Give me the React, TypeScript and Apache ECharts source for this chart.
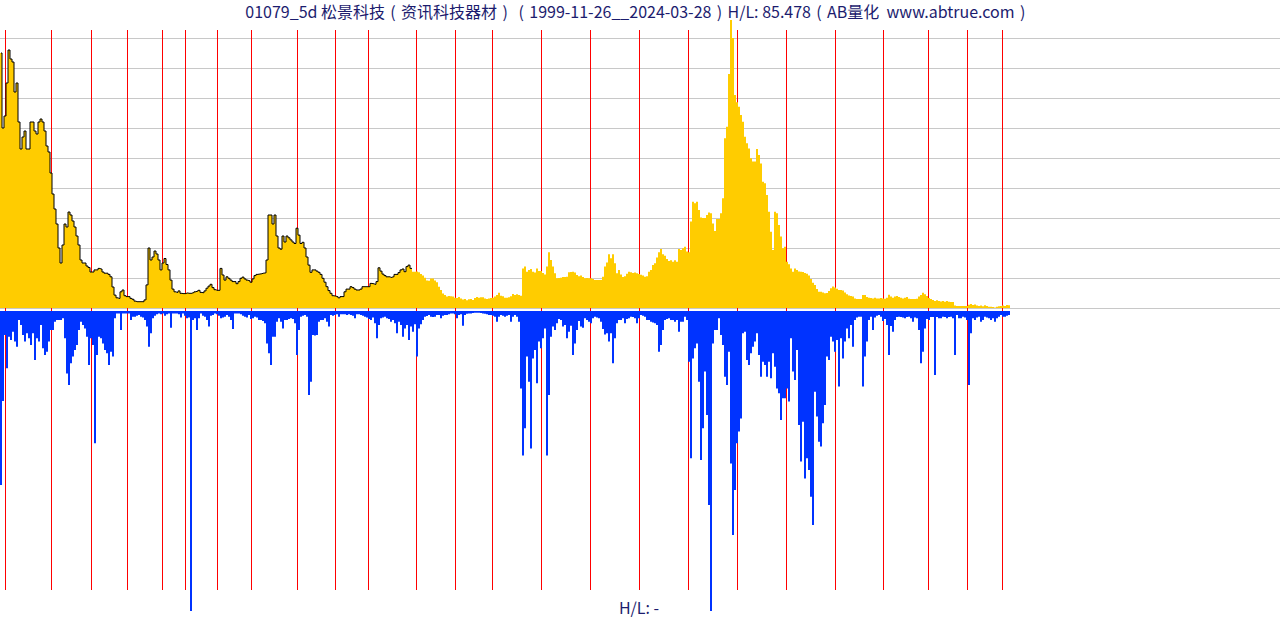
import React, { useEffect, useRef } from "react";
import * as echarts from "echarts";

const P_OPEN = "\u2004(\u2004";
const P_CLOSE = "\u2004)\u2004";
const TITLE =
  "01079_5d 松景科技" + P_OPEN + "资讯科技器材" + P_CLOSE + P_OPEN +
  "1999-11-26__2024-03-28" + P_CLOSE + "H/L: 85.478" + P_OPEN +
  "AB量化  www.abtrue.com" + P_CLOSE;
const FOOTER = "H/L: -";
const SLOT_COUNT = 640;
const OUTLINE_END = 205;

// year separators, in slot units
const yearLineSlots = [
  2.75, 25.75, 45.75, 63.75, 81.25, 92.75, 108.75, 125.75, 148.75, 167.75,
  184.25, 208.25, 227.75, 246.25, 270.75, 295.25, 319.75, 344.25, 368.75,
  393.25, 417.75, 441.75, 464.25, 483.75, 501.25,
];

// upper panel (price) values
const priceA = [
  85, 60, 64, 75, 86, 83, 82, 72, 75, 62,
  53, 57, 59, 53, 53, 62, 62, 59, 58, 62,
  63, 62, 59, 54, 52, 45, 38, 33, 28, 20,
  15, 21, 28, 27, 32, 31, 29, 27, 24, 21,
  16, 15, 15, 14, 13.5, 12, 12, 12.7, 12.7, 13.2,
  13, 12, 11.6, 11.6, 11.2, 10.4, 7, 4.3, 3.4, 3.2,
  5.4, 6, 4.1, 3.8, 3.8, 3.2, 2.9, 2.3, 2.1, 2.1,
  2.1, 2.1, 2.7, 7.7, 20, 16, 17, 19, 18, 16,
  12.7, 15, 16.5, 14.5, 12.7, 9.3, 6.3, 5.4, 5.2, 5.7,
  4.9, 4.8, 4.8, 5, 4.9, 4.9, 5.1, 5.4, 5.6, 5.9,
  5.2, 5.1, 5.7, 6.6, 7.3, 7.9, 6.8, 6.1, 5.9, 5.9,
  13.2, 11, 9.3, 10.4, 9.9, 9.3, 8.8, 8.8, 8.1, 8.8,
  9.9, 10.3, 9.7, 9.3, 9.1, 8.6, 9.7, 10.8, 11.2, 11.3,
  11.4, 11.6, 11.7, 16, 31, 31, 28, 31, 24, 20,
  19.6, 24, 22, 24, 23.4, 22.7, 22, 21.5, 26.6, 24.3,
  21.5, 21.9, 20, 17, 14.3, 11.9, 12.7, 12.7, 12.3, 11.9,
  11.2, 9.9, 8.6, 7.1, 5.8, 4.9, 4.1, 4, 3.8, 3.4,
];
const priceB = [
  3.8, 3.8, 5.4, 6.3, 6.3, 7.1, 6.8, 6.3, 6, 6,
  6.3, 7.1, 7.1, 7.1, 7.1, 8.2, 8.1, 7.9, 8.8, 13.4,
  12.3, 11.3, 10.8, 10.4, 10.4, 10.2, 10.4, 11.2, 11.2, 11.8,
  12.7, 13, 12.1, 13.8, 14.3, 13.2, 12.1, 12.1, 12.2, 11.9,
  11.3, 10.8, 10.1, 9.2, 9.1, 9.8, 9.8, 9.2, 8.6, 7.1,
  6, 4.8, 4.3, 3.8, 4, 3.9, 3.8, 3.4, 3.3, 3.7,
  3.2, 2.8, 3, 2.6, 2.9, 3, 2.7, 3.3, 3.7, 3.4,
  3.6, 3.6, 3.2, 3, 3.2, 3.3, 3.4, 3.8, 4.3, 5.1,
  4.1, 3.9, 3.4, 3.4, 3.6, 3.9, 4.7, 4.3, 4.6, 4.3,
  4.1, 13.2, 13.8, 12.1, 12.7, 13, 12.1, 11.8, 13.2, 12.3,
  12.3, 11.7, 11.2, 13.8, 18.6, 16, 13.8, 11.6, 9.9, 10,
  10.1, 10.3, 10.3, 10.4, 11.9, 12, 12.1, 11.8, 11, 10.6,
  10.8, 10.3, 9.9, 10, 9.9, 9.9, 9.7, 9.3, 9.3, 9.3,
  9.3, 10.4, 13.8, 15.2, 17.9, 16.6, 17.9, 14.9, 11.6, 12.7,
  11.2, 10.3, 10.6, 11.4, 12.1, 11.9, 11.7, 11.8, 11.6, 11.3,
  11.1, 10.8, 10.4, 10.6, 12.1, 12.7, 14.3, 14.9, 16.8, 18.6,
  19.7, 17.9, 17.4, 16.3, 15.7, 15.9, 15.4, 15.9, 15.4, 19.7,
];
const priceC = [
  19.3, 19.9, 20.4, 18.8, 18.6, 28.8, 35.4, 34.9, 35.4, 32.7,
  30.2, 30, 30, 31, 31.8, 31.6, 28.2, 25.7, 29.7, 29.7,
  31.6, 36.6, 56.6, 60.4, 78, 96, 90, 71, 68.6, 67.1,
  64.3, 62.1, 57.1, 54.9, 53.2, 49.9, 48.8, 48.8, 53, 51,
  48.2, 42.1, 41.6, 37.7, 32.1, 25.4, 19.3, 32.1, 31.6, 27.7,
  23.8, 19.9, 20.4, 15.4, 14.6, 13.2, 12.1, 13.2, 12.7, 12.2,
  12.1, 12, 11.7, 11.4, 10.8, 9.7, 8.4, 7.7, 6.3, 5.4,
  5.4, 5.2, 4.9, 5, 5.7, 6.6, 7.2, 6.8, 6.4, 6,
  6, 5.8, 5.2, 4.6, 4.2, 4, 3.8, 3.2, 3, 3,
  3, 4.3, 4.3, 3.7, 3.4, 3.3, 3.2, 3.4, 3.2, 3.2,
  3.3, 3.2, 3.1, 3.4, 4.4, 3.8, 3.4, 3.8, 4, 3.7,
  3.4, 3.2, 3.4, 3.7, 3.1, 3, 3, 3, 3.1, 3.8,
  4.3, 5.1, 4.6, 4, 3.3, 3, 2.7, 2.3, 2.6, 2.3,
  2.2, 2.3, 2.1, 2.3, 2.1, 2, 2, 0.8, 0.7, 0.7,
  0.7, 0.7, 0.7, 0.7, 1.1, 1.3, 1, 1.2, 0.8, 0.7,
  0.8, 0.6, 0.9, 0.7, 0.4, 0.4, 0.3, 0.2, 0.4, 0.6,
  0.7, 0.8, 0.7, 1, 0.9,
];

// lower panel (downward bars) values
const lowA = [
  58, 30, 8, 19.1, 8.6, 9.7, 6.9, 10.2, 11.9, 3,
  4.7, 8, 10.2, 7.4, 9.1, 11.3, 7.4, 16.3, 9.1, 10.2,
  4.7, 12.4, 14.7, 13.6, 10.2, 6.3, 6.3, 3.6, 3, 3,
  3, 2.4, 9.1, 20.8, 24.7, 17.4, 15.2, 13, 11.3, 6.3,
  3.6, 4.7, 5.8, 8.6, 18, 9.1, 11.3, 44.1, 14.7, 8.6,
  9.1, 10.8, 13, 14.1, 18, 13.6, 15.2, 2.4, 0.8, 0.8,
  6.3, 0.8, 0.8, 0.8, 0.8, 3, 1.9, 1.9, 1.6, 1.3,
  1.9, 2.2, 3, 5.2, 11.9, 7.4, 2.4, 1.6, 1.1, 0.8,
  1.1, 0.8, 1.6, 1.1, 0.8, 5.6, 0.8, 0.8, 0.8, 1.1,
  2.2, 0.8, 1.6, 2.4, 2.2, 100, 3, 2.4, 6.3, 2.4,
  0.8, 1.6, 1.9, 3, 5.2, 1.6, 1.3, 0.8, 1.1, 1.6,
  2.4, 2.2, 1.9, 1.3, 1.9, 3, 6, 0.8, 0.8, 0.8,
  1.1, 1.6, 1.9, 2.2, 1.3, 2.7, 2.4, 1.9, 2.2, 3,
  3, 3.3, 4.1, 10.8, 14.1, 18, 8.6, 8.6, 3.6, 2.4,
  3.6, 5.8, 3, 3, 2.7, 2.4, 2.7, 4.1, 14.7, 6.3,
  1.9, 1.6, 1.3, 1.9, 28, 23.6, 8, 8.2, 8, 3.6,
  3, 3, 2.4, 3.6, 5.2, 1.3, 1.6, 1.3, 1.1, 1.9,
];
const lowB = [
  1.1, 1.1, 1.1, 1.3, 1.1, 1.3, 1.6, 2.4, 1.1, 1.1,
  1.3, 1.6, 1.9, 2.2, 2.7, 3, 2.2, 4.1, 9.1, 4.7,
  2.4, 2.2, 1.9, 2.4, 2.7, 3.6, 3, 4.1, 7.4, 3.6,
  4.7, 8.6, 5.8, 4.7, 9.7, 5.2, 6.9, 4.4, 15.2, 5.8,
  4.4, 3, 1.9, 1.7, 1.3, 1.9, 2, 1.9, 1.3, 1.3,
  2.4, 1.6, 1.3, 1.3, 1.1, 0.8, 0.8, 1.1, 2.4, 1.3,
  1.1, 4.9, 1.3, 0.9, 0.8, 0.8, 0.7, 0.6, 0.6, 0.6,
  0.7, 0.8, 0.9, 1.1, 1.3, 1.3, 1.6, 1.9, 3.6, 1.9,
  1.3, 1.6, 1.9, 1.6, 1.3, 3.6, 1.9, 1.3, 1.9, 3.6,
  25.8, 48.2, 39.1, 15.2, 23.6, 45.8, 15.8, 13, 24.1, 10.2,
  12.4, 9.1, 5.8, 48.2, 28, 8.6, 5.2, 6.3, 4.1, 2.7,
  3, 5.2, 4.7, 9.1, 6.9, 4.9, 14.7, 10.8, 6.3, 3.3,
  5.2, 5.6, 2.4, 3, 3.6, 4.1, 2.4, 1.9, 2.2, 2.4,
  3.6, 6, 7.8, 7.4, 10.2, 7.4, 17.4, 9.1, 4.1, 3,
  3, 2.4, 4.1, 2.7, 2.4, 1.9, 2, 2.4, 4.1, 2.4,
  1.3, 1.6, 1.9, 3, 3, 3.6, 3.8, 4.1, 4.7, 13.6,
  11.3, 6.3, 3, 2.7, 2.4, 3, 3, 3.6, 3, 6.9,
];
const lowC = [
  3.6, 3.6, 1.9, 3, 16.9, 49.1, 15.8, 12.4, 10.8, 23.6,
  49.7, 39.1, 20.2, 34.7, 64.7, 100, 10.8, 6.3, 6.3, 2.4,
  8, 11.3, 21.9, 24.7, 13.6, 50.8, 74.7, 59.7, 44.1, 40.2,
  35.8, 7.4, 6.9, 16.3, 18, 14.1, 11.9, 10.2, 7.4, 14.7,
  21.9, 16.9, 18, 21.9, 16.9, 22.4, 14.1, 18.6, 25.8, 27.4,
  36.3, 29.1, 29.1, 25.8, 30.2, 9.1, 20.2, 23, 13, 38,
  50.2, 36.9, 55.8, 49.1, 53, 61.9, 71.3, 26.9, 35.2, 43.6,
  45.2, 37.4, 31.3, 15.2, 16.3, 8.6, 10.2, 13.6, 9.7, 25.2,
  9.1, 15.8, 10.2, 5.8, 9.1, 4.7, 11.9, 3, 2.2, 1.9,
  1.9, 25.2, 15.2, 10.2, 3, 1.9, 6.3, 2.2, 1.6, 1.3,
  1.9, 3.3, 2.7, 4.7, 14.7, 5, 6.9, 3, 2, 1.9,
  2, 2.2, 2.4, 2, 1.9, 2.4, 3.6, 2.2, 2.4, 6.3,
  17.4, 13.6, 5.8, 2.7, 3, 2, 2, 21.3, 2, 2.4,
  2.4, 1.9, 2, 2.4, 2, 1.9, 2.4, 14.7, 1.3, 2.4,
  2.4, 1.9, 2.2, 3, 24.7, 7.4, 2.4, 3, 2.2, 1.9,
  3.6, 3, 1.9, 2.2, 2.4, 3, 2.4, 3.6, 2.4, 1.9,
  1.3, 1.9, 1.9, 1.6, 1.3,
];

const TEXT_COLOR = "#1c1c6e";
const FONT_FAMILY = '"Noto Sans CJK SC", "Noto Sans", sans-serif';

export default function App() {
  const ref = useRef<HTMLDivElement>(null);

  useEffect(() => {
    if (!ref.current) return;
    const chart = echarts.init(ref.current, null, { renderer: "svg" });
    const price = [...priceA, ...priceB, ...priceC];
    const low = [...lowA, ...lowB, ...lowC];
    const cats = Array.from({ length: SLOT_COUNT }, (_, i) => String(i));
    const outline = price.map((v, i) => (i <= OUTLINE_END ? v : null));

    const textStyle = {
      fontSize: 16,
      lineHeight: 16,
      fontFamily: FONT_FAMILY,
      fill: TEXT_COLOR,
      textAlign: "center",
      textVerticalAlign: "middle",
    };

    chart.setOption({
      animation: false,
      backgroundColor: "#ffffff",
      graphic: [
        { type: "text", x: 638, y: 11, silent: true, style: { ...textStyle, text: TITLE } },
        { type: "text", x: 639, y: 607, silent: true, style: { ...textStyle, text: FOOTER } },
      ],
      grid: [
        { left: 0, right: 0, top: 38, height: 270 },
        { left: 0, right: 0, top: 311, height: 300 },
        { left: 0, right: 0, top: 30, height: 560 },
      ],
      xAxis: [
        { type: "category", gridIndex: 0, data: cats, show: false },
        { type: "category", gridIndex: 1, data: cats, show: false },
        { type: "value", gridIndex: 2, min: 0, max: SLOT_COUNT, show: false },
      ],
      yAxis: [
        {
          type: "value",
          gridIndex: 0,
          min: 0,
          max: 90,
          interval: 10,
          axisLabel: { show: false },
          axisLine: { show: false },
          axisTick: { show: false },
          splitLine: { show: true, lineStyle: { color: "#c8c8c8", width: 1 } },
        },
        { type: "value", gridIndex: 1, min: 0, max: 100, inverse: true, show: false },
        { type: "value", gridIndex: 2, min: 0, max: 1, show: false },
      ],
      series: [
        {
          type: "custom",
          xAxisIndex: 2,
          yAxisIndex: 2,
          z: 1,
          silent: true,
          itemStyle: { color: "#ff0000" },
          data: yearLineSlots.map((v) => [v, 0]),
          renderItem: (_params: any, api: any) => {
            const x = api.value(0);
            const top = api.coord([x, 1]);
            const bottom = api.coord([x, 0]);
            return {
              type: "rect",
              shape: {
                x: Math.round(top[0] - 0.5),
                y: Math.round(top[1]),
                width: 1,
                height: Math.round(bottom[1] - top[1]),
              },
              style: { fill: "#ff0000", stroke: "none" },
            };
          },
        },
        {
          type: "bar",
          xAxisIndex: 0,
          yAxisIndex: 0,
          data: price,
          barCategoryGap: "0%",
          itemStyle: { color: "#ffcc00" },
          z: 3,
          clip: false,
          silent: true,
        },
        {
          type: "line",
          xAxisIndex: 0,
          yAxisIndex: 0,
          data: outline,
          symbol: "none",
          step: "middle",
          lineStyle: { color: "#000000", width: 1 },
          z: 4,
          clip: false,
          silent: true,
        },
        {
          type: "bar",
          xAxisIndex: 1,
          yAxisIndex: 1,
          data: low,
          barCategoryGap: "0%",
          itemStyle: { color: "#0033ff" },
          z: 3,
          clip: false,
          silent: true,
        },
      ],
    });

    return () => chart.dispose();
  }, []);

  return (
    <div
      ref={ref}
      style={{ position: "fixed", left: 0, top: 0, width: 1280, height: 620 }}
    />
  );
}
